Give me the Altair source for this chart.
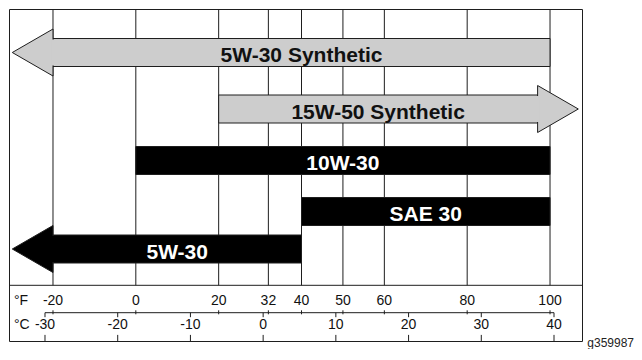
import altair as alt
import pandas as pd

# ---------------- data ----------------
oils = ["5W-30 Synthetic", "15W-50 Synthetic", "10W-30", "SAE 30", "5W-30"]
lo_f = [-20, 20, 0, 40, -20]          # solid bar start (deg F)
hi_f = [100, 97, 100, 100, 40]        # solid bar end (deg F)
arrow = ["left", "right", "none", "none", "left"]
kind = ["synthetic", "synthetic", "conventional", "conventional", "conventional"]

f_ticks = [-20, 0, 20, 32, 40, 50, 60, 80, 100]
c_ticks = [-30, -20, -10, 0, 10, 20, 30, 40]
unit_f = "°F"
unit_c = "°C"
figure_id = "g359987"

# ---------------- layout / style ----------------
W, H = 573, 332
F_DOMAIN = [-30.62, 107.72]
C_DOMAIN = [-34.95, 43.85]
ROW_Y = [43.5, 100, 151.5, 202.5, 240]
SEP_Y = 276.3
AXIS_Y = 303.7
F_LAB_Y = 295.5
C_LAB_Y = 320.4
LINE = "#1e1e1e"
GRAY = "#cdcdcd"
FONT = "Liberation Sans"
LEFT_PATH = "M0,-1L-1.732,0L0,1Z"
RIGHT_PATH = "M0,-1L1.732,0L0,1Z"

rows = list(range(len(oils)))
bars = pd.DataFrame({"oil": oils, "lo": lo_f, "hi": hi_f, "arrow": arrow,
                     "kind": kind, "row": rows})
fdf = pd.DataFrame({"f": f_ticks, "lab": [str(v) for v in f_ticks]})
cdf = pd.DataFrame({"c": c_ticks, "lab": [str(v) for v in c_ticks]})
crange = pd.DataFrame({"lo": [min(c_ticks)], "hi": [max(c_ticks)]})

fscale = alt.Scale(domain=F_DOMAIN, nice=False, zero=False)
cscale = alt.Scale(domain=C_DOMAIN, nice=False, zero=False)
yscale = alt.Scale(domain=rows, range=ROW_Y, nice=False, zero=False)
fill_scale = alt.Scale(domain=["synthetic", "conventional"], range=[GRAY, "#000000"])
text_scale = alt.Scale(domain=["synthetic", "conventional"], range=["#111111", "#ffffff"])


def xf(field):
    return alt.X(field, type="quantitative", scale=fscale, axis=None)


def xc(field):
    return alt.X(field, type="quantitative", scale=cscale, axis=None)


yrow = alt.Y("row:Q", scale=yscale, axis=None)

grid = alt.Chart(fdf).mark_rule(color=LINE, strokeWidth=1).encode(
    x=xf("f"), y=alt.value(0), y2=alt.value(SEP_Y))

sep = alt.Chart(crange).mark_rule(color=LINE, strokeWidth=1).encode(
    x=alt.value(0), x2=alt.value(W), y=alt.value(SEP_Y))

body = alt.Chart(bars).mark_rect(stroke=LINE, strokeWidth=1, yOffset=-14, y2Offset=14).encode(
    x=xf("lo"), x2="hi:Q", y=yrow, y2="row:Q",
    fill=alt.Fill("kind:N", scale=fill_scale, legend=None))

arrows = alt.Chart(bars).transform_filter("datum.arrow != 'none'").transform_calculate(
    base="datum.arrow == 'left' ? datum.lo : datum.hi")

heads = arrows.mark_point(filled=True, size=2209, stroke=LINE, strokeWidth=1, opacity=1).encode(
    x=xf("base"), y=yrow,
    fill=alt.Fill("kind:N", scale=fill_scale, legend=None),
    shape=alt.Shape("arrow:N", scale=alt.Scale(domain=["left", "right"],
                                               range=[LEFT_PATH, RIGHT_PATH]), legend=None))

patch = arrows.mark_rule(strokeWidth=3, yOffset=-13, y2Offset=13).encode(
    x=xf("base"), y=yrow, y2="row:Q",
    stroke=alt.Stroke("kind:N", scale=fill_scale, legend=None))

labels = alt.Chart(bars).transform_calculate(mid="(datum.lo + datum.hi) / 2").mark_text(
    font=FONT, fontSize=21, fontWeight="bold", baseline="alphabetic", dy=9.5, align="center").encode(
    x=xf("mid"), y=yrow, text="oil:N",
    color=alt.Color("kind:N", scale=text_scale, legend=None))

fticks = alt.Chart(fdf).mark_rule(color=LINE, strokeWidth=1).encode(
    x=xf("f"), y=alt.value(AXIS_Y - 2.4), y2=alt.value(AXIS_Y + 1.6))

flabels = alt.Chart(fdf).mark_text(font=FONT, fontSize=14, baseline="alphabetic",
                                   align="center", color="#111111").encode(
    x=xf("f"), y=alt.value(F_LAB_Y), text="lab:N")

caxis = alt.Chart(crange).mark_rule(color=LINE, strokeWidth=1).encode(
    x=xc("lo"), x2="hi:Q", y=alt.value(AXIS_Y))

cticks_top = alt.Chart(cdf).mark_rule(color=LINE, strokeWidth=1).encode(
    x=xc("c"), y=alt.value(AXIS_Y), y2=alt.value(AXIS_Y + 4.5))

cticks_bot = alt.Chart(cdf).mark_rule(color=LINE, strokeWidth=1).encode(
    x=xc("c"), y=alt.value(C_LAB_Y + 5.5), y2=alt.value(H))

clabels = alt.Chart(cdf).mark_text(font=FONT, fontSize=14, baseline="alphabetic",
                                   align="center", color="#111111").encode(
    x=xc("c"), y=alt.value(C_LAB_Y), text="lab:N")

ftitle = alt.Chart(pd.DataFrame({"t": [unit_f]})).mark_text(
    font=FONT, fontSize=14, baseline="alphabetic", align="left", color="#111111").encode(
    x=alt.value(5), y=alt.value(F_LAB_Y), text="t:N")

ctitle = alt.Chart(pd.DataFrame({"t": [unit_c]})).mark_text(
    font=FONT, fontSize=14, baseline="alphabetic", align="left", color="#111111").encode(
    x=alt.value(5), y=alt.value(C_LAB_Y), text="t:N")

fig_id = alt.Chart(pd.DataFrame({"t": [figure_id]})).mark_text(
    font=FONT, fontSize=12, baseline="alphabetic", align="right", color="#222222").encode(
    x=alt.value(625), y=alt.value(338), text="t:N")

chart = alt.layer(
    grid, sep, body, heads, patch, labels,
    fticks, flabels, caxis, cticks_top, cticks_bot, clabels,
    ftitle, ctitle, fig_id
).resolve_scale(x="independent").properties(
    width=W, height=H,
    padding=0,
    background="white"
).configure_view(stroke=LINE, strokeWidth=1)

chart.save("out.html", embed_options={"renderer": "svg", "actions": False})
